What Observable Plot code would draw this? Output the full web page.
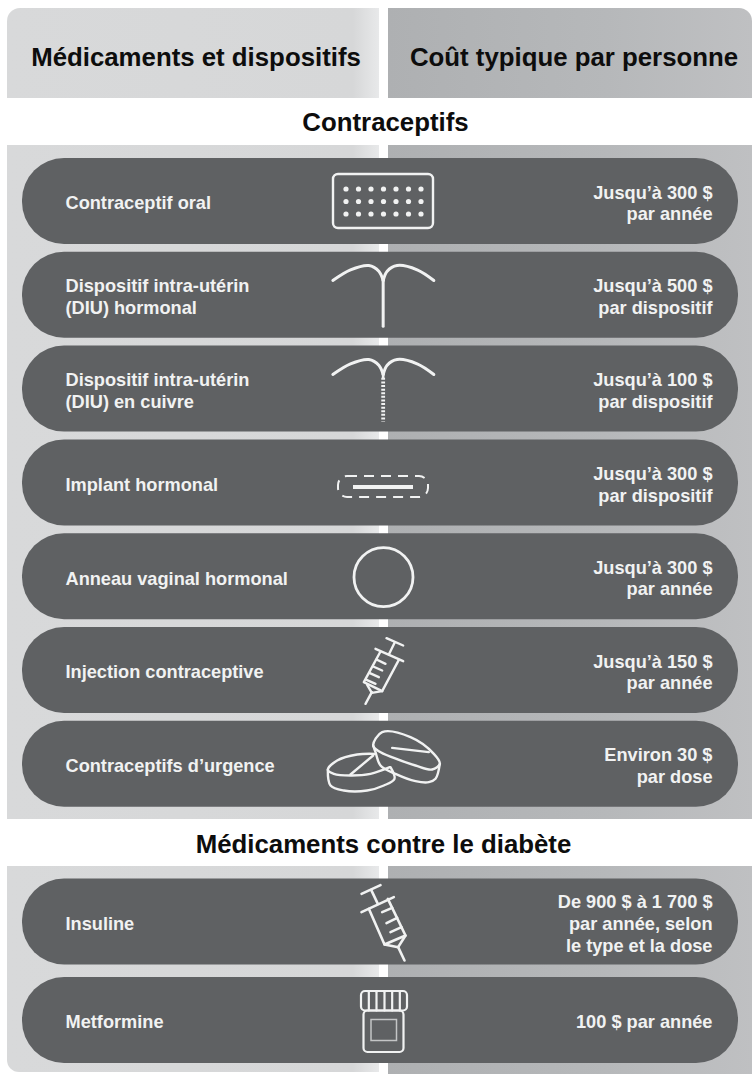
<!DOCTYPE html>
<html lang="fr">
<head>
<meta charset="utf-8">
<script src="https://cdn.jsdelivr.net/npm/d3@7"></script>
<script src="https://cdn.jsdelivr.net/npm/@observablehq/plot@0.6"></script>
<style>html,body{margin:0;padding:0;background:#fff}svg{display:block}</style>
</head>
<body>
<div id="chart"></div>
<script>
// ---- content ----
const headers = ["Médicaments et dispositifs", "Coût typique par personne"];
const sections = ["Contraceptifs", "Médicaments contre le diabète"];
const contraceptiveNames = [
  "Contraceptif oral",
  "Dispositif intra-utérin\n(DIU) hormonal",
  "Dispositif intra-utérin\n(DIU) en cuivre",
  "Implant hormonal",
  "Anneau vaginal hormonal",
  "Injection contraceptive",
  "Contraceptifs d’urgence"
];
const contraceptiveCosts = [
  "Jusqu’à 300 $\npar année",
  "Jusqu’à 500 $\npar dispositif",
  "Jusqu’à 100 $\npar dispositif",
  "Jusqu’à 300 $\npar dispositif",
  "Jusqu’à 300 $\npar année",
  "Jusqu’à 150 $\npar année",
  "Environ 30 $\npar dose"
];
const diabetesNames = ["Insuline", "Metformine"];
const diabetesCosts = ["De 900 $ à 1 700 $\npar année, selon\nle type et la dose", "100 $ par année"];

// ---- layout (derived from list positions) ----
const W = 752, H = 1074, rowH = 86;
const rows = [
  ...contraceptiveNames.map((name, i) => ({name, cost: contraceptiveCosts[i], cy: 201 + i * 93.8})),
  ...diabetesNames.map((name, i) => ({name, cost: diabetesCosts[i], cy: 921.5 + i * 98.5}))
];
const F = "Liberation Sans, Arial, sans-serif";
const ICON = "#f1f2f2";
const leftFill = "url(#leftG)", rightFill = "url(#rightG)";

// ---- pictogram strokes (glyph outlines, in px relative to an origin) ----
const strokes = [];
function glyph(ox, oy, curve, w, pts, extra = {}) {
  strokes.push(Plot.line(pts.map(([a, b]) => ({x: ox + a / 3, y: oy + b / 3})),
    {x: "x", y: "y", curve, stroke: ICON, strokeWidth: w, strokeLinecap: "round", strokeLinejoin: "round", ...extra}));
}
// hormonal IUD
const armsA = [[97,360],[150,328],[205,315],[235,332],[248,360]];
const armsB = [[400,360],[350,328],[290,315],[260,332],[248,360]];
glyph(300,160,"catmull-rom",3,armsA);
glyph(300,160,"catmull-rom",3,armsB);
glyph(300,160,"linear",3,[[248,355],[248,497]]);
// copper IUD
const shift = p => p.map(([a,b]) => [a, b + 282]);
glyph(300,160,"catmull-rom",3,shift(armsA));
glyph(300,160,"catmull-rom",3,shift(armsB));
glyph(300,160,"linear",2.6,[[248,637],[248,652]]);
glyph(300,160,"linear",3.8,[[248,652],[248,783]],{strokeDasharray:"2 1.6",strokeLinecap:"butt"});
// injection syringe
const sw1 = 2.4, sw2 = 2.6;
glyph(300,450,"linear",sw1,[[258,563],[308,585]]);
glyph(300,450,"linear",sw1,[[283,575],[265,612]]);
glyph(300,450,"linear",sw1,[[225,595],[308,632]]);
glyph(300,450,"linear",sw1,[[240,603],[190,695],[245,722],[295,628]]);
glyph(300,450,"linear",sw1,[[228,627],[255,640]]);
glyph(300,450,"linear",sw1,[[218,648],[245,660]]);
glyph(300,450,"linear",sw1,[[208,668],[235,680]]);
glyph(300,450,"linear",sw1,[[198,688],[225,700]]);
glyph(300,450,"linear",sw1,[[200,703],[214,727],[245,722]]);
glyph(300,450,"linear",sw1,[[214,725],[195,760]]);
// emergency pills
glyph(300,450,"catmull-rom",sw1,[[222,910],[170,912],[110,930],[82,958],[100,970],[150,975],[210,970],[268,950]]);
glyph(300,450,"linear",sw1,[[150,972],[218,915]]);
glyph(300,450,"catmull-rom",sw1,[[82,958],[90,1005],[130,1020],[200,1020],[250,1005],[282,985],[270,950]]);
glyph(300,450,"catmull-rom-closed",sw1,[[218,885],[245,845],[330,860],[400,910],[418,940],[395,957],[345,945],[280,922],[235,902]]);
glyph(300,450,"linear",sw1,[[275,892],[385,905]]);
glyph(300,450,"catmull-rom",sw1,[[218,885],[225,905],[240,945],[285,970],[345,992],[385,995],[405,985],[418,940]]);
// insulin syringe
glyph(300,800,"linear",sw2,[[183,280],[240,254]]);
glyph(300,800,"linear",sw2,[[212,268],[232,310]]);
glyph(300,800,"linear",sw2,[[183,335],[280,290]]);
glyph(300,800,"linear",sw2,[[205,325],[252,432],[315,405],[262,295]]);
glyph(300,800,"linear",sw2,[[275,322],[245,335]]);
glyph(300,800,"linear",sw2,[[290,352],[258,368]]);
glyph(300,800,"linear",sw2,[[303,380],[270,395]]);
glyph(300,800,"linear",sw2,[[252,432],[293,440],[315,405]]);
glyph(300,800,"linear",sw2,[[293,440],[312,480]]);
// bottle ribs
for (const x of [205,228,252,275,298]) glyph(300,800,"linear",2.2,[[x,575],[x,630]]);

// pill pack dots
const pack = d3.cross(d3.range(-3,4), d3.range(-1,2)).map(([c,r]) => ({x: 383 + c*12.5, y: 201 + r*12.5}));

const defs = () => {
  const d = d3.create("svg:defs");
  const g = (id, x1, x2, stops) => {
    const l = d.append("linearGradient").attr("id", id).attr("gradientUnits", "userSpaceOnUse")
      .attr("x1", x1).attr("x2", x2).attr("y1", 0).attr("y2", 0);
    stops.forEach(([o,c]) => l.append("stop").attr("offset", o).attr("stop-color", c));
  };
  g("leftG", 7, 379, [[0,"#d8d9da"],[0.93,"#d6d7d8"],[1,"#e8e9ea"]]);
  g("rightG", 388, 752, [[0,"#aeb0b2"],[0.6,"#b6b8ba"],[1,"#bfc0c2"]]);
  return d.node();
};

const panel = (x1, x2, y1, y2, fill, rx = 0) =>
  Plot.rect([{}], {x1: () => x1, x2: () => x2, y1: () => y1, y2: () => y2, fill, rx});

const titleOpts = {text: d => d, fontFamily: F, fontWeight: "bold", fontSize: 25.8, fill: "#0d0d0d"};
const rowText = {fontFamily: F, fontWeight: "bold", fontSize: 18.2, lineHeight: 1.19, fill: "#f1f2f2"};

const plot = Plot.plot({
  width: W, height: H, margin: 0,
  style: {background: "#fff", overflow: "hidden"},
  x: {domain: [0, W], range: [0, W], axis: null},
  y: {domain: [0, H], range: [0, H], axis: null},
  marks: [
    defs,
    // header panels
    panel(7, 379, 8, 98, leftFill, 13), panel(60, 379, 8, 98, leftFill), panel(7, 379, 40, 98, leftFill),
    panel(388, 752, 8, 98, rightFill, 13), panel(388, 700, 8, 98, rightFill), panel(388, 752, 40, 98, rightFill),
    // body panels
    panel(7, 379, 145, 819, leftFill), panel(388, 752, 145, 819, rightFill),
    panel(7, 379, 866, 1072, leftFill, 12), panel(7, 379, 866, 1040, leftFill), panel(60, 379, 866, 1072, leftFill),
    panel(388, 752, 866, 1074, rightFill),
    // pills
    Plot.rect(rows, {x1: () => 22, x2: () => 738, y1: d => d.cy - rowH/2, y2: d => d.cy + rowH/2, fill: "#5f6163", rx: 42}),
    // header + section titles
    Plot.text([headers[0]], {x: () => 195.5, y: () => 57, ...titleOpts}),
    Plot.text([headers[1]], {x: () => 573.5, y: () => 57, ...titleOpts}),
    Plot.text([sections[0]], {x: () => 385, y: () => 122, ...titleOpts}),
    Plot.text([sections[1]], {x: () => 383, y: () => 844, ...titleOpts}),
    // row labels
    Plot.text(rows, {x: () => 65, y: d => d.cy + 1, text: "name", textAnchor: "start", ...rowText}),
    Plot.text(rows, {x: () => 712, y: d => d.cy + 1, text: "cost", textAnchor: "end", ...rowText}),
    // pill pack
    Plot.rect([{}], {x1: () => 333, x2: () => 433, y1: () => 174, y2: () => 228, rx: 5, stroke: ICON, strokeWidth: 2.4, fill: "none"}),
    Plot.dot(pack, {x: "x", y: "y", r: 2.6, fill: ICON, stroke: "none"}),
    // implant
    Plot.rect([{}], {x1: () => 338, x2: () => 428, y1: () => 476, y2: () => 497, rx: 9, stroke: ICON, strokeWidth: 2, strokeDasharray: "10 7", fill: "none"}),
    Plot.ruleY([0], {y: () => 486.5, x1: () => 353, x2: () => 413, stroke: ICON, strokeWidth: 4}),
    // ring
    Plot.dot([{}], {x: () => 383, y: () => 576.7, r: 29.5, stroke: ICON, strokeWidth: 2.8, fill: "none"}),
    // bottle
    Plot.rect([{}], {x1: () => 361, x2: () => 407, y1: () => 991, y2: () => 1010.5, rx: 4, stroke: ICON, strokeWidth: 2.2, fill: "none"}),
    Plot.rect([{}], {x1: () => 363.5, x2: () => 403.5, y1: () => 1010.5, y2: () => 1052, rx: 4, stroke: ICON, strokeWidth: 2.2, fill: "none"}),
    Plot.rect([{}], {x1: () => 371, x2: () => 396.5, y1: () => 1019.5, y2: () => 1040.5, stroke: "#c4c5c6", strokeWidth: 1.5, fill: "none"}),
    ...strokes
  ]
});
document.getElementById("chart").append(plot);
</script>
</body>
</html>
